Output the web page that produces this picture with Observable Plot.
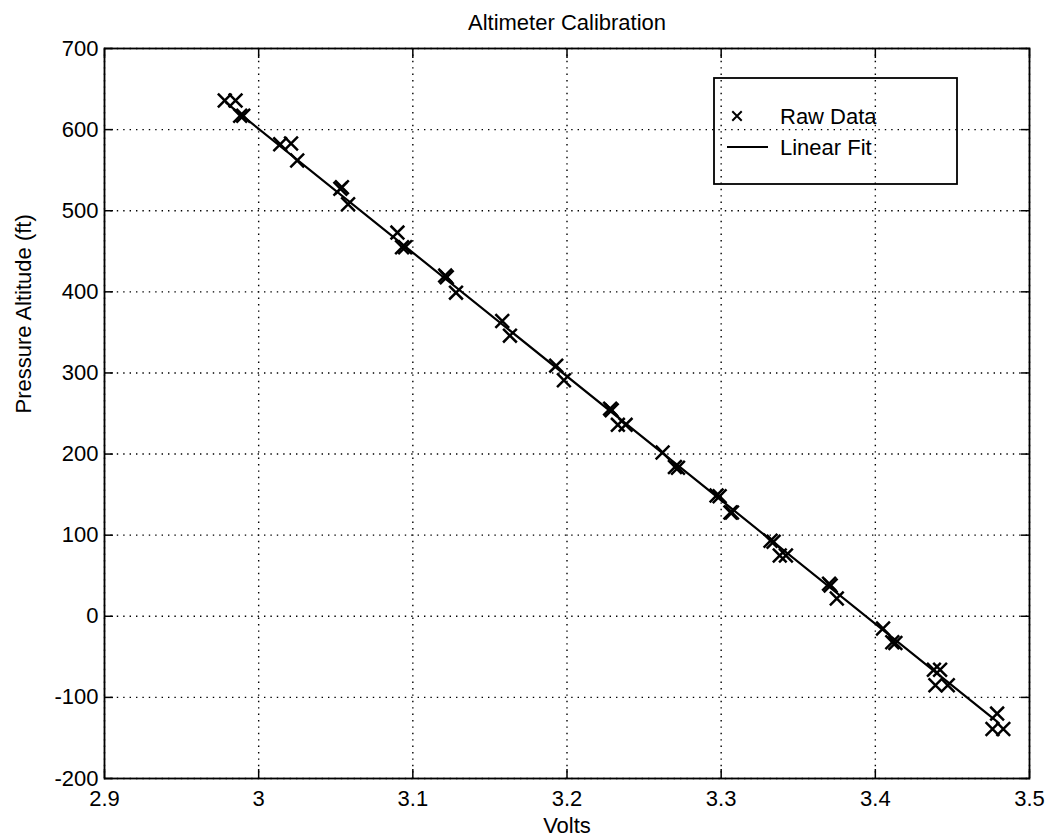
<!DOCTYPE html>
<html><head><meta charset="utf-8">
<script src="https://cdn.jsdelivr.net/npm/d3@7"></script>
<script src="https://cdn.jsdelivr.net/npm/@observablehq/plot@0.6"></script>
<style>
html,body{margin:0;padding:0;background:#fff;}
#wrap{position:relative;width:1049px;height:837px;font-family:"Liberation Sans",Arial,Helvetica,sans-serif;}
#legend{position:absolute;left:713px;top:77px;}
</style></head><body><div id="wrap"></div>
<script>
const title = "Altimeter Calibration";
const xLabel = "Volts";
const yLabel = "Pressure Altitude (ft)";
const legendLabels = ["Raw Data", "Linear Fit"];

const volts = [2.978, 2.985, 2.988, 2.990, 3.014, 3.021, 3.025, 3.053, 3.054, 3.058,
  3.090, 3.093, 3.095, 3.121, 3.122, 3.128, 3.158, 3.163, 3.193, 3.198,
  3.228, 3.229, 3.233, 3.238, 3.262, 3.270, 3.272, 3.297, 3.299, 3.306,
  3.307, 3.332, 3.334, 3.338, 3.342, 3.370, 3.371, 3.375, 3.405, 3.411,
  3.413, 3.438, 3.442, 3.439, 3.447, 3.479, 3.476, 3.483];
const altitude = [636, 636, 617, 617, 582, 583, 562, 527, 529, 508,
  473, 455, 455, 420, 418, 399, 364, 346, 309, 291,
  256, 254, 236, 236, 202, 184, 183, 149, 148, 128,
  128, 93, 92, 75, 75, 40, 38, 22, -15, -32,
  -33, -66, -66, -85, -85, -120, -139, -139];

const fitVolts = [2.979, 3.479];
const fitAltitude = [633, -130];

const xTicks = [2.9, 3, 3.1, 3.2, 3.3, 3.4, 3.5];
const yTicks = [-200, -100, 0, 100, 200, 300, 400, 500, 600, 700];

const raw = volts.map((v, i) => ({v, a: altitude[i]}));
const fit = fitVolts.map((v, i) => ({v, a: fitAltitude[i]}));
const font = '"Liberation Sans", Arial, Helvetica, sans-serif';
const fmt = d => String(d);
const blank = () => "";
const gridStyle = {stroke: "black", strokeOpacity: 1, strokeWidth: 1.4, strokeDasharray: "1.4,5"};

const chart = Plot.plot({
  width: 1049, height: 837,
  marginTop: 48, marginBottom: 59, marginLeft: 104, marginRight: 20,
  style: {fontFamily: font, fontSize: "22px", color: "black", background: "white"},
  x: {domain: [2.9, 3.5]},
  y: {domain: [-200, 700]},
  marks: [
    Plot.gridX(xTicks, gridStyle),
    Plot.gridY(yTicks, gridStyle),
    Plot.axisX(xTicks, {anchor: "bottom", tickSize: 0, tickPadding: 12, tickFormat: fmt, label: null, fontSize: 22}),
    Plot.axisY(yTicks, {anchor: "left", tickSize: 0, tickPadding: 6, tickFormat: fmt, label: null, fontSize: 22}),
    Plot.axisX(xTicks, {anchor: "bottom", tickSize: 9, dy: -9, tickFormat: blank, label: null, strokeWidth: 1.5}),
    Plot.axisX(xTicks, {anchor: "top", tickSize: 9, dy: 9, tickFormat: blank, label: null, strokeWidth: 1.5}),
    Plot.axisY(yTicks, {anchor: "left", tickSize: 9, dx: 9, tickFormat: blank, label: null, strokeWidth: 1.5}),
    Plot.axisY(yTicks, {anchor: "right", tickSize: 9, dx: -9, tickFormat: blank, label: null, strokeWidth: 1.5}),
    Plot.frame({stroke: "black", strokeWidth: 1.8}),
    Plot.line(fit, {x: "v", y: "a", stroke: "black", strokeWidth: 2.2}),
    Plot.dot(raw, {x: "v", y: "a", symbol: "times", r: 6.3, stroke: "black", strokeWidth: 2.5}),
    Plot.text([title], {text: d => d, frameAnchor: "top", dy: -26, fontSize: 22, lineAnchor: "middle"}),
    Plot.text([xLabel], {text: d => d, frameAnchor: "bottom", dy: 47, fontSize: 22, lineAnchor: "middle"}),
    Plot.text([yLabel], {text: d => d, frameAnchor: "left", dx: -81, rotate: -90, fontSize: 22, lineAnchor: "middle"})
  ]
});
document.getElementById("wrap").appendChild(chart);

// legend
const lg = d3.select("#wrap").append("svg").attr("id", "legend")
  .attr("width", 247).attr("height", 110)
  .style("font-family", font);
lg.append("rect").attr("x", 1).attr("y", 1).attr("width", 243).attr("height", 106)
  .attr("fill", "none").attr("stroke", "black").attr("stroke-width", 1.8);
lg.append("path").attr("transform", "translate(24,39)")
  .attr("d", d3.symbol(d3.symbolTimes, 60)())
  .attr("fill", "none").attr("stroke", "black").attr("stroke-width", 2);
lg.append("line").attr("x1", 14).attr("x2", 55).attr("y1", 70).attr("y2", 70)
  .attr("stroke", "black").attr("stroke-width", 2);
lg.selectAll("text.lab").data(legendLabels).join("text").attr("class", "lab")
  .attr("x", 67).attr("y", (d, i) => 39 + i * 31).attr("dy", "0.35em")
  .attr("font-size", 22).text(d => d);
</script>
</body></html>
